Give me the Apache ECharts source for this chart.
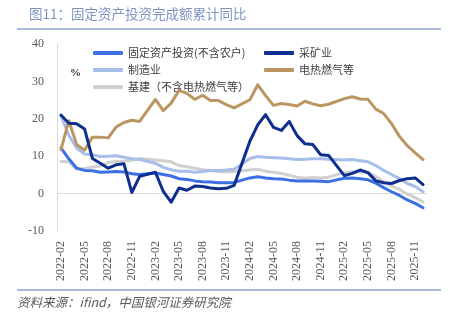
<!DOCTYPE html>
<html>
<head>
<meta charset="utf-8">
<script src="https://cdn.jsdelivr.net/npm/echarts@6/dist/echarts.min.js"></script>
<style>
  html, body { margin: 0; padding: 0; background: #fff; }
  #chart { width: 455px; height: 324px; }
</style>
</head>
<body>
<div id="chart"></div>
<script>
// Months from 2022-02 to 2025-12; January has no separate release (null, bridged).
const months = [];
for (let y = 2022; y <= 2025; y++) {
  for (let m = (y === 2022 ? 2 : 1); m <= 12; m++) {
    months.push(y + '-' + String(m).padStart(2, '0'));
  }
}

const seriesNames = ['固定资产投资(不含农户)', '制造业', '基建（不含电热燃气等）', '采矿业', '电热燃气等'];

// Cumulative year-on-year growth, %
const fixedAsset = [12.2, 9.3, 6.8, 6.2, 6.1, 5.7, 5.8, 5.9, 5.8, 5.3, 5.1, null,
  5.5, 5.1, 4.7, 4.0, 3.8, 3.4, 3.2, 3.1, 2.9, 2.9, 3.0, null,
  4.2, 4.5, 4.2, 4.0, 3.9, 3.6, 3.4, 3.4, 3.4, 3.3, 3.2, null,
  4.1, 4.2, 4.0, 3.7, 2.8, 1.6, 0.5, -0.5, -1.7, -2.6, -3.8];

const manufacturing = [20.9, 15.6, 12.2, 10.6, 10.4, 9.9, 10.0, 10.1, 9.7, 9.3, 9.1, null,
  8.1, 7.0, 6.4, 6.0, 6.0, 5.7, 5.9, 6.2, 6.2, 6.3, 6.5, null,
  9.4, 9.9, 9.7, 9.6, 9.5, 9.3, 9.1, 9.2, 9.3, 9.3, 9.2, null,
  9.0, 9.1, 8.8, 8.5, 7.5, 6.2, 5.1, 4.0, 2.7, 1.9, 0.5];

const infrastructure = [8.6, 8.5, 6.5, 6.7, 7.1, 7.4, 8.3, 8.6, 8.7, 8.9, 9.4, null,
  9.0, 8.8, 8.5, 7.5, 7.2, 6.8, 6.4, 6.2, 5.9, 5.8, 5.9, null,
  6.3, 6.5, 6.0, 5.7, 5.4, 4.9, 4.4, 4.1, 4.3, 4.2, 4.4, null,
  5.6, 5.8, 5.8, 5.6, 4.6, 3.2, 2.0, 1.1, -0.1, -1.1, -2.2];

const mining = [21.0, 18.8, 18.7, 17.3, 9.4, 8.1, 6.8, 7.7, 8.0, 0.3, 4.6, null,
  5.7, 0.6, -2.3, 1.5, 0.9, 2.0, 1.9, 1.5, 1.3, 1.4, 2.2, null,
  14.0, 18.4, 21.1, 17.7, 16.9, 19.3, 15.5, 13.3, 13.1, 10.4, 10.2, null,
  4.8, 5.4, 6.3, 5.6, 3.4, 2.9, 2.7, 3.5, 4.0, 4.2, 2.4];

const utilities = [11.7, 19.5, 13.1, 11.6, 15.1, 15.1, 14.9, 17.8, 19.0, 19.6, 19.3, null,
  25.2, 22.2, 24.2, 27.6, 26.8, 25.2, 26.3, 24.9, 24.9, 23.8, 22.9, null,
  25.1, 29.1, 26.2, 23.6, 24.1, 23.8, 23.4, 24.7, 24.0, 23.5, 23.9, null,
  25.4, 25.9, 25.3, 25.2, 22.6, 21.4, 18.7, 15.3, 12.8, 10.9, 9.1];

const colors = ['#3b6fe6', '#a6bee9', '#d0d0d0', '#0f2f8e', '#bb9663'];
const values = [fixedAsset, manufacturing, infrastructure, mining, utilities];
const drawOrder = [2, 1, 0, 4, 3];

const serifFont = '"Liberation Serif", "Times New Roman", serif';
const cjkFont = '"Noto Sans CJK SC", "Noto Sans", sans-serif';

const chart = echarts.init(document.getElementById('chart'), null, { renderer: 'canvas' });

const legendCommon = {
  orient: 'vertical',
  icon: 'roundRect',
  itemWidth: 30,
  itemHeight: 4,
  itemGap: 3,
  textStyle: { fontFamily: cjkFont, fontSize: 11, color: '#404040', lineHeight: 14 },
  selectedMode: false
};

chart.setOption({
  animation: false,
  color: colors,
  grid: { left: 57, right: 28, top: 44, bottom: 93, containLabel: false },
  legend: [
    Object.assign({ left: 88, top: 41, data: seriesNames.slice(0, 3) }, legendCommon),
    Object.assign({ left: 259, top: 41, data: seriesNames.slice(3) }, legendCommon)
  ],
  xAxis: {
    type: 'category',
    data: months,
    boundaryGap: true,
    axisLine: { show: false },
    axisTick: { show: false },
    axisLabel: {
      interval: 2,
      rotate: 90,
      margin: 10,
      fontFamily: serifFont,
      fontSize: 12,
      color: '#595959'
    }
  },
  yAxis: {
    type: 'value',
    min: -10,
    max: 40,
    interval: 10,
    axisLine: { show: true, lineStyle: { color: '#d9d9d9', width: 1 } },
    axisTick: { show: false },
    splitLine: { show: false },
    axisLabel: { margin: 13, fontFamily: serifFont, fontSize: 12, color: '#595959' }
  },
  series: drawOrder.map(function (k, n) {
    const s = {
      name: seriesNames[k],
      type: 'line',
      data: values[k],
      connectNulls: true,
      showSymbol: false,
      symbol: 'none',
      z: 2 + n,
      itemStyle: { color: colors[k] },
      lineStyle: { width: 3, color: colors[k], cap: 'round', join: 'round' }
    };
    if (n === 0) {
      s.markLine = {
        silent: true,
        symbol: 'none',
        label: { show: false },
        lineStyle: { color: '#d9d9d9', width: 1, type: 'solid' },
        data: [{ yAxis: 0 }],
        z: 1
      };
    }
    return s;
  }),
  graphic: [
    {
      type: 'text', left: 29, top: 7,
      style: { text: '图11：固定资产投资完成额累计同比', font: '13.5px ' + cjkFont, fill: '#7f93c3' }
    },
    {
      type: 'line', shape: { x1: 17, y1: 29, x2: 441, y2: 29 },
      style: { stroke: '#8fa4d1', lineWidth: 1.5 }
    },
    {
      type: 'line', shape: { x1: 17, y1: 290, x2: 441, y2: 290 },
      style: { stroke: '#8fa4d1', lineWidth: 1.5 }
    },
    {
      type: 'text', left: 17, top: 296,
      style: { text: '资料来源：ifind，中国银河证券研究院', font: 'italic 12.5px ' + cjkFont, fill: '#595959' }
    },
    {
      type: 'text', left: 70, top: 68,
      style: { text: '%', font: 'bold 11px ' + serifFont, fill: '#333333' }
    }
  ]
});
</script>
</body>
</html>
